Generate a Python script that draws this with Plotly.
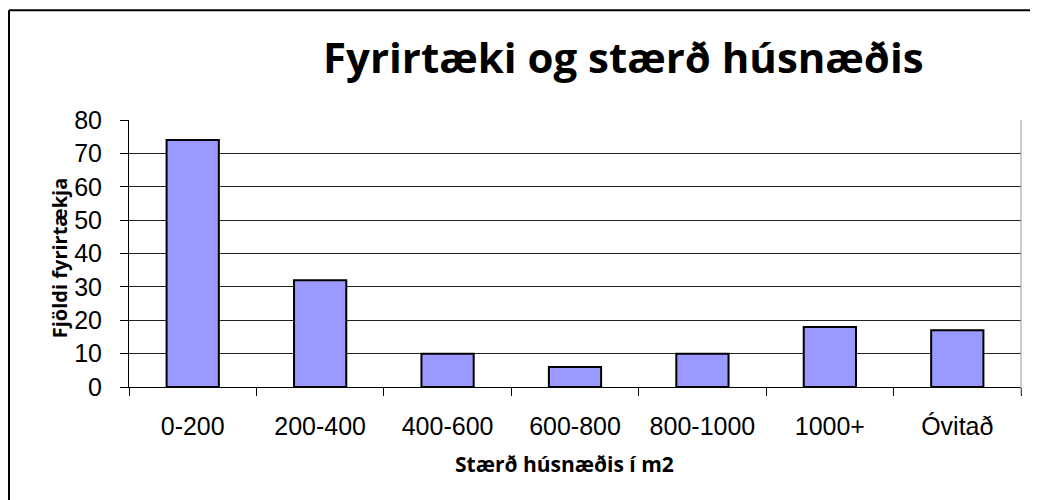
import plotly.graph_objects as go

categories = ["0-200", "200-400", "400-600", "600-800", "800-1000", "1000+", "Óvitað"]
values = [74, 32, 10, 6, 10, 18, 17]
y_ticks = [0, 10, 20, 30, 40, 50, 60, 70, 80]

title_text = "Fyrirtæki og stærð húsnæðis"
x_title = "Stærð húsnæðis í m2"
y_title = "Fjöldi fyrirtækja"

# the page body has an 8px default margin; compensate so the picture lines up
OFF = 8
W, H = 1038 - OFF, 500 - OFF
L, R, T, B = 129 - OFF, 1021 - OFF, 119.5 - OFF, 387 - OFF
PW, PH = R - L, B - T

def px(x):
    return (x - OFF - L) / PW

def py(y):
    return (B - (y - OFF)) / PH

fig = go.Figure(go.Bar(
    x=categories, y=values,
    marker=dict(color="#9999FF", line=dict(color="black", width=2)),
    hoverinfo="x+y",
))

fig.update_layout(
    width=W, height=H,
    margin=dict(l=L, r=W - R, t=T, b=H - B, pad=0),
    paper_bgcolor="white", plot_bgcolor="white",
    bargap=0.59,
    showlegend=False,
    font=dict(family="Liberation Sans, Arial, sans-serif", color="black"),
    xaxis=dict(
        type="category",
        showline=True, linecolor="black", linewidth=1,
        ticks="outside", tickson="boundaries", ticklen=8, tickcolor="black", tickwidth=1,
        tickfont=dict(size=25, family="Liberation Sans, Arial, sans-serif"),
        ticklabelstandoff=17,
        showgrid=False, fixedrange=True,
    ),
    yaxis=dict(
        range=[0, 80], tickvals=y_ticks,
        showline=True, linecolor="black", linewidth=1,
        ticks="outside", ticklen=8, tickcolor="black", tickwidth=1,
        tickfont=dict(size=25, family="Liberation Sans, Arial, sans-serif"),
        ticklabelstandoff=13,
        showgrid=True, gridcolor="#222222", gridwidth=1,
        zeroline=True, zerolinecolor="black", zerolinewidth=1,
        fixedrange=True,
    ),
    annotations=[
        dict(text=f"<b>{title_text}</b>", xref="paper", yref="paper",
             x=px(623), y=py(56), xanchor="center", yanchor="middle", showarrow=False,
             font=dict(family="Open Sans, Lato, sans-serif", size=42, color="black")),
        dict(text=f"<b>{x_title}</b>", xref="paper", yref="paper",
             x=px(564), y=py(464), xanchor="center", yanchor="middle", showarrow=False,
             font=dict(family="Open Sans, Lato, sans-serif", size=21, color="black")),
        dict(text=f"<b>{y_title}</b>", xref="paper", yref="paper",
             x=px(59), y=py(258), xanchor="center", yanchor="middle", showarrow=False,
             textangle=-90,
             font=dict(family="Open Sans, Lato, sans-serif", size=20, color="black")),
    ],
    shapes=[
        # outer chart border (top and left visible)
        dict(type="line", xref="paper", yref="paper", x0=px(9), x1=px(1045), y0=py(9.5), y1=py(9.5),
             line=dict(color="black", width=2)),
        dict(type="line", xref="paper", yref="paper", x0=px(9), x1=px(9), y0=py(9.5), y1=py(510),
             line=dict(color="black", width=2)),
        # faint right edge of plot area
        dict(type="line", xref="paper", yref="paper", x0=1, x1=1, y0=py(395), y1=1,
             line=dict(color="#999999", width=1)),
    ],
)

fig.write_html("out.html")
